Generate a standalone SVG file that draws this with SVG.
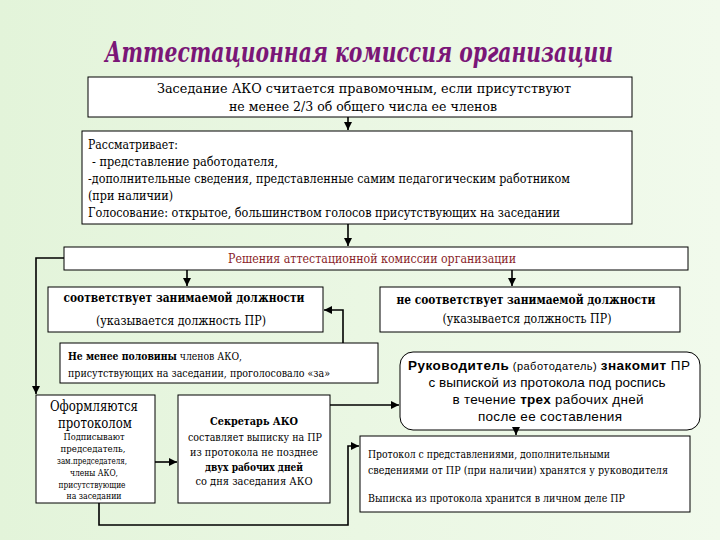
<svg xmlns="http://www.w3.org/2000/svg" width="720" height="540" viewBox="0 0 720 540">
<defs>
<linearGradient id="bg" x1="0" y1="0" x2="1" y2="0">
<stop offset="0" stop-color="#e3f4da"/>
<stop offset="1" stop-color="#f1faec"/>
</linearGradient>
<marker id="arr" markerUnits="userSpaceOnUse" markerWidth="9" markerHeight="9" refX="8" refY="4.5" orient="auto">
<path d="M0,0.5 L8,4.5 L0,8.5 Z" fill="#000"/>
</marker>
</defs>
<style>
.box{fill:#fff;stroke:#000;stroke-width:1}
.t{fill:#000}
.s{fill:#000}
.c{text-anchor:middle}
.b{font-weight:bold}
.ln{fill:none;stroke:#000;stroke-width:1.6}
</style>
<rect width="720" height="540" fill="url(#bg)"/>
<g font-family="'DejaVu Serif', 'Liberation Serif', 'Noto Serif', serif">
<text x="359" y="62" class="t c" font-size="28" font-weight="bold" font-style="italic" style="fill:#7a1677" textLength="508" lengthAdjust="spacingAndGlyphs">Аттестационная комиссия организации</text>

<g id="n-quorum">
<rect class="box" x="88" y="77" width="544" height="40"/>
<text class="t c" x="364" y="93" font-size="13" textLength="414" lengthAdjust="spacingAndGlyphs">Заседание АКО считается правомочным, если присутствуют</text>
<text class="t c" x="363" y="111" font-size="13" textLength="268" lengthAdjust="spacingAndGlyphs">не менее 2/3 об общего числа ее членов</text>
</g>

<g id="n-considers">
<rect class="box" x="82" y="131" width="550" height="93"/>
<text class="t" x="88" y="149" font-size="12" textLength="90" lengthAdjust="spacingAndGlyphs">Рассматривает:</text>
<text class="t" x="92" y="166" font-size="12" textLength="186" lengthAdjust="spacingAndGlyphs"> - представление работодателя,</text>
<text class="t" x="88" y="183" font-size="12" textLength="482" lengthAdjust="spacingAndGlyphs">-дополнительные сведения, представленные самим педагогическим работником</text>
<text class="t" x="88" y="200" font-size="12" textLength="85" lengthAdjust="spacingAndGlyphs">(при наличии)</text>
<text class="t" x="88" y="217" font-size="12" textLength="472" lengthAdjust="spacingAndGlyphs">Голосование: открытое, большинством голосов присутствующих на заседании</text>
</g>

<g id="n-decisions">
<rect class="box" x="64" y="247" width="624" height="23"/>
<text class="t c" x="372" y="263" font-size="12" style="fill:#8a1f2a" textLength="288" lengthAdjust="spacingAndGlyphs">Решения аттестационной комиссии организации</text>
</g>

<g id="n-fits">
<rect class="box" x="48" y="287" width="275" height="45"/>
<text class="t c b" x="184" y="302" font-size="12" textLength="241" lengthAdjust="spacingAndGlyphs">соответствует занимаемой должности</text>
<text class="t c" x="181" y="325" font-size="12" textLength="170" lengthAdjust="spacingAndGlyphs">(указывается должность ПР)</text>
</g>

<g id="n-notfits">
<rect class="box" x="380" y="287" width="300" height="45"/>
<text class="t c b" x="526" y="304" font-size="12" textLength="259" lengthAdjust="spacingAndGlyphs">не соответствует занимаемой должности</text>
<text class="t c" x="527" y="323" font-size="12" textLength="169" lengthAdjust="spacingAndGlyphs">(указывается должность ПР)</text>
</g>

<g id="n-half">
<rect class="box" x="60" y="343" width="318" height="40"/>
<text class="t" x="68" y="360" font-size="11" textLength="174" lengthAdjust="spacingAndGlyphs"><tspan class="b">Не менее половины</tspan> членов АКО,</text>
<text class="t" x="68" y="377" font-size="11" textLength="262" lengthAdjust="spacingAndGlyphs">присутствующих на заседании, проголосовало «за»</text>
</g>

<g id="n-protocol">
<rect class="box" x="36" y="395" width="119" height="108"/>
<text class="t c" x="94" y="411" font-size="14" textLength="88" lengthAdjust="spacingAndGlyphs">Оформляются</text>
<text class="t c" x="95" y="428" font-size="14" textLength="74" lengthAdjust="spacingAndGlyphs">протоколом</text>
<text class="t c" x="94" y="440" font-size="8.5" textLength="61" lengthAdjust="spacingAndGlyphs">Подписывают</text>
<text class="t c" x="93" y="452" font-size="8.5" textLength="65" lengthAdjust="spacingAndGlyphs">председатель,</text>
<text class="t c" x="92" y="464" font-size="8.5" textLength="70" lengthAdjust="spacingAndGlyphs">зам.председателя,</text>
<text class="t c" x="94" y="476" font-size="8.5" textLength="48" lengthAdjust="spacingAndGlyphs">члены АКО,</text>
<text class="t c" x="92" y="488" font-size="8.5" textLength="67" lengthAdjust="spacingAndGlyphs">присутствующие</text>
<text class="t c" x="94" y="499" font-size="8.5" textLength="55" lengthAdjust="spacingAndGlyphs">на заседании</text>
</g>

<g id="n-secretary">
<rect class="box" x="178" y="395" width="152" height="108"/>
<text class="t c b" x="254" y="425" font-size="11" textLength="88" lengthAdjust="spacingAndGlyphs">Секретарь АКО</text>
<text class="t c" x="255" y="441" font-size="11" textLength="134" lengthAdjust="spacingAndGlyphs">составляет выписку на ПР</text>
<text class="t c" x="254" y="456" font-size="11" textLength="128" lengthAdjust="spacingAndGlyphs">из протокола не позднее</text>
<text class="t c b" x="254" y="471" font-size="11" textLength="98" lengthAdjust="spacingAndGlyphs">двух рабочих дней</text>
<text class="t c" x="254" y="485" font-size="11" textLength="117" lengthAdjust="spacingAndGlyphs">со дня заседания АКО</text>
</g>

<g id="n-storage">
<rect class="box" x="360" y="436" width="330" height="76"/>
<text class="t" x="368" y="458" font-size="11" textLength="242" lengthAdjust="spacingAndGlyphs">Протокол с представлениями, дополнительными</text>
<text class="t" x="368" y="474" font-size="11" textLength="300" lengthAdjust="spacingAndGlyphs">сведениями  от ПР (при наличии) хранятся у руководителя</text>
<text class="t" x="368" y="502" font-size="11" textLength="257" lengthAdjust="spacingAndGlyphs">Выписка из протокола хранится в личном деле ПР</text>
</g>
</g>

<g id="n-head" font-family="'Liberation Sans', Arial, 'DejaVu Sans', sans-serif">
<rect class="box" x="400" y="352" width="300" height="78" rx="13" ry="13"/>
<text class="s" x="408" y="370" font-size="13.5" textLength="282"><tspan class="b">Руководитель</tspan><tspan font-size="11">  (работодатель) </tspan><tspan class="b">знакомит</tspan> ПР</text>
<text class="s c" x="547" y="387" font-size="13.5" textLength="237">с выпиской из протокола под роспись</text>
<text class="s c" x="548" y="404" font-size="13.5" textLength="191">в течение <tspan class="b">трех</tspan> рабочих дней</text>
<text class="s c" x="550" y="421" font-size="13.5" textLength="144">после ее составления</text>
</g>

<g id="connectors">
<path class="ln" d="M348,117 V130" marker-end="url(#arr)"/>
<path class="ln" d="M348,224 V246" marker-end="url(#arr)"/>
<path class="ln" d="M187,270 V286" marker-end="url(#arr)"/>
<path class="ln" d="M512,270 V286" marker-end="url(#arr)"/>
<path class="ln" d="M64,258 H36 V394" marker-end="url(#arr)"/>
<path class="ln" d="M343,343 V310 H324" marker-end="url(#arr)"/>
<path class="ln" d="M155,462 H177" marker-end="url(#arr)"/>
<path class="ln" d="M330,405 H399" marker-end="url(#arr)"/>
<path class="ln" d="M516,430 V435" marker-end="url(#arr)"/>
<path class="ln" d="M99,503 V525 H348 V446 H359" marker-end="url(#arr)"/>
</g>
</svg>
